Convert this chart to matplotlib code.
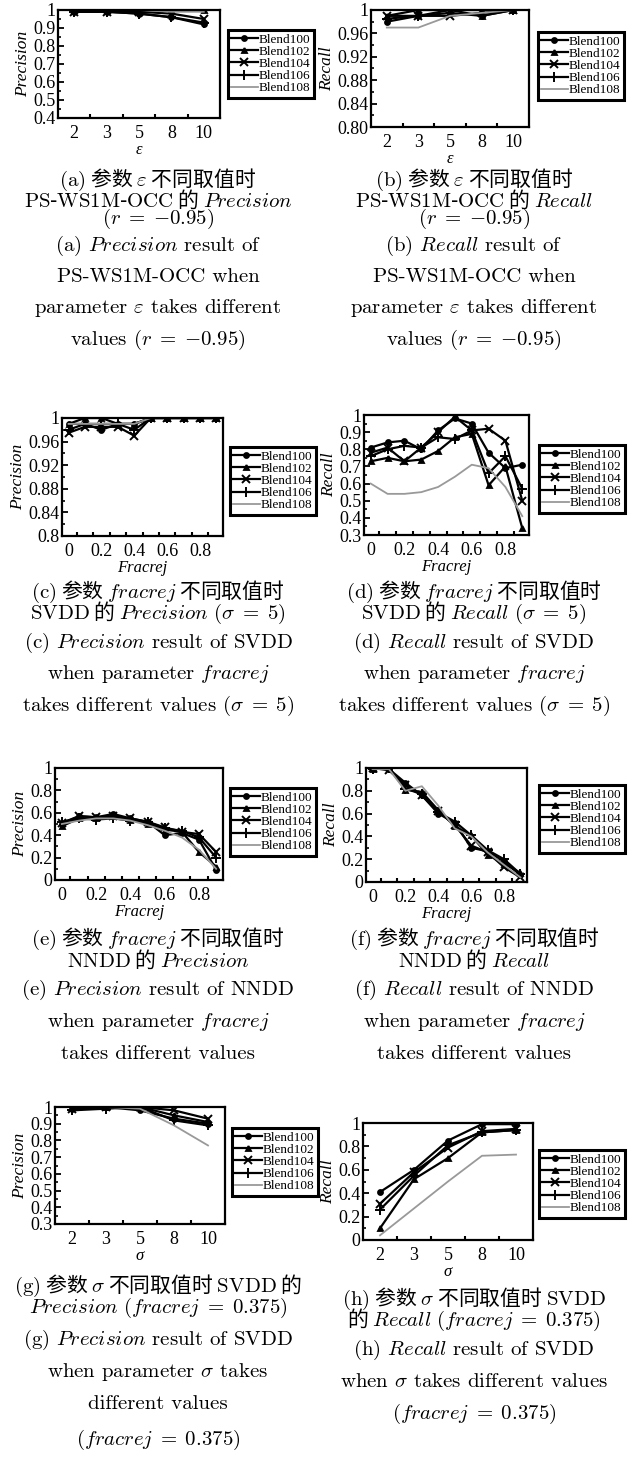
import numpy as np
import matplotlib
matplotlib.use('Agg')
import matplotlib.pyplot as plt

plt.rcParams['mathtext.fontset'] = 'cm'
plt.rcParams['font.family'] = ['Liberation Serif', 'DejaVu Serif']
plt.rcParams['axes.unicode_minus'] = False

# ---- data ----
names = ['Blend100', 'Blend102', 'Blend104', 'Blend106', 'Blend108']
eps_labels = ['2', '3', '5', '8', '10']
sigma_labels = ['2', '3', '5', '8', '10']
fracrej = [0.0, 0.1, 0.2, 0.3, 0.4, 0.5, 0.6, 0.7, 0.8, 0.9]

# (a) PS-WS1M-OCC precision vs epsilon
prec_eps = [
    [0.99, 0.99, 0.98, 0.96, 0.92],
    [1.00, 1.00, 1.00, 1.00, 1.00],
    [0.99, 0.99, 0.99, 0.98, 0.95],
    [0.99, 0.99, 0.98, 0.96, 0.93],
    [1.00, 1.00, 1.00, 0.99, 0.99],
]
# (b) PS-WS1M-OCC recall vs epsilon
rec_eps = [
    [0.980, 0.990, 0.995, 0.990, 1.000],
    [0.990, 1.000, 1.000, 0.990, 1.000],
    [0.990, 0.990, 0.990, 0.995, 1.000],
    [0.985, 0.990, 1.000, 1.000, 1.000],
    [0.970, 0.970, 0.990, 0.995, 1.000],
]
# (c) SVDD precision vs fracrej
prec_svdd_fr = [
    [0.990, 0.990, 0.980, 0.990, 0.990, 1.0, 1.0, 1.0, 1.0, 1.0],
    [0.990, 1.000, 1.000, 0.990, 0.990, 1.0, 1.0, 1.0, 1.0, 1.0],
    [0.975, 0.985, 0.985, 0.985, 0.970, 1.0, 1.0, 1.0, 1.0, 1.0],
    [0.980, 0.990, 0.990, 0.990, 0.980, 1.0, 1.0, 1.0, 1.0, 1.0],
    [0.990, 0.990, 0.990, 0.990, 0.990, 1.0, 1.0, 1.0, 1.0, 1.0],
]
# (d) SVDD recall vs fracrej
rec_svdd_fr = [
    [0.81, 0.84, 0.85, 0.80, 0.91, 0.98, 0.95, 0.78, 0.69, 0.71],
    [0.73, 0.75, 0.73, 0.74, 0.79, 0.87, 0.89, 0.59, 0.70, 0.34],
    [0.78, 0.81, 0.73, 0.81, 0.90, 0.99, 0.91, 0.92, 0.85, 0.50],
    [0.76, 0.80, 0.82, 0.81, 0.87, 0.86, 0.91, 0.66, 0.76, 0.57],
    [0.60, 0.54, 0.54, 0.55, 0.58, 0.64, 0.71, 0.69, 0.58, 0.41],
]
# (e) NNDD precision vs fracrej
prec_nndd = [
    [0.50, 0.57, 0.56, 0.59, 0.55, 0.52, 0.40, 0.42, 0.36, 0.09],
    [0.48, 0.55, 0.55, 0.57, 0.54, 0.50, 0.45, 0.43, 0.25, 0.12],
    [0.51, 0.57, 0.56, 0.57, 0.55, 0.52, 0.47, 0.43, 0.41, 0.25],
    [0.52, 0.55, 0.54, 0.55, 0.53, 0.52, 0.46, 0.44, 0.38, 0.20],
    [0.50, 0.53, 0.55, 0.55, 0.53, 0.49, 0.44, 0.38, 0.27, 0.10],
]
# (f) NNDD recall vs fracrej
rec_nndd = [
    [1.00, 0.99, 0.87, 0.76, 0.60, 0.52, 0.30, 0.27, 0.18, 0.06],
    [0.99, 1.00, 0.81, 0.79, 0.63, 0.49, 0.41, 0.24, 0.16, 0.08],
    [1.00, 0.98, 0.85, 0.76, 0.62, 0.50, 0.32, 0.26, 0.13, 0.04],
    [0.99, 1.00, 0.82, 0.77, 0.61, 0.53, 0.41, 0.28, 0.20, 0.07],
    [0.99, 0.99, 0.80, 0.84, 0.67, 0.47, 0.40, 0.26, 0.15, 0.04],
]
# (g) SVDD precision vs sigma
prec_sigma = [
    [0.99, 1.00, 0.98, 0.93, 0.90],
    [1.00, 1.00, 1.00, 0.95, 0.91],
    [0.99, 1.00, 1.00, 0.98, 0.93],
    [0.98, 0.99, 1.00, 0.92, 0.89],
    [1.00, 1.00, 0.99, 0.89, 0.77],
]
# (h) SVDD recall vs sigma
rec_sigma = [
    [0.41, 0.60, 0.85, 0.99, 0.99],
    [0.10, 0.52, 0.70, 0.92, 0.94],
    [0.31, 0.58, 0.79, 0.93, 0.95],
    [0.26, 0.55, 0.81, 0.92, 0.94],
    [0.04, 0.27, 0.50, 0.72, 0.73],
]

captions = {
    'a': [r'$\mathrm{(a)}$ 参数 $\varepsilon$ 不同取值时',
          r'$\mathrm{PS}$-$\mathrm{WS1M}$-$\mathrm{OCC}$ 的 $Precision$',
          r'$(r\;=\;{-0.95})$',
          r'(a) $Precision$ result of',
          r'PS-WS1M-OCC when',
          r'parameter $\varepsilon$ takes different',
          r'values $(r\;=\;{-0.95})$'],
    'b': [r'$\mathrm{(b)}$ 参数 $\varepsilon$ 不同取值时',
          r'$\mathrm{PS}$-$\mathrm{WS1M}$-$\mathrm{OCC}$ 的 $Recall$',
          r'$(r\;=\;{-0.95})$',
          r'(b) $Recall$ result of',
          r'PS-WS1M-OCC when',
          r'parameter $\varepsilon$ takes different',
          r'values $(r\;=\;{-0.95})$'],
    'c': [r'$\mathrm{(c)}$ 参数 $fracrej$ 不同取值时',
          r'$\mathrm{SVDD}$ 的 $Precision\ (\sigma\;=\;5)$',
          r'(c) $Precision$ result of SVDD',
          r'when parameter $fracrej$',
          r'takes different values $(\sigma\;=\;5)$'],
    'd': [r'$\mathrm{(d)}$ 参数 $fracrej$ 不同取值时',
          r'$\mathrm{SVDD}$ 的 $Recall\ (\sigma\;=\;5)$',
          r'(d) $Recall$ result of SVDD',
          r'when parameter $fracrej$',
          r'takes different values $(\sigma\;=\;5)$'],
    'e': [r'$\mathrm{(e)}$ 参数 $fracrej$ 不同取值时',
          r'$\mathrm{NNDD}$ 的 $Precision$',
          r'(e) $Precision$ result of NNDD',
          r'when parameter $fracrej$',
          r'takes different values'],
    'f': [r'$\mathrm{(f)}$ 参数 $fracrej$ 不同取值时',
          r'$\mathrm{NNDD}$ 的 $Recall$',
          r'(f) $Recall$ result of NNDD',
          r'when parameter $fracrej$',
          r'takes different values'],
    'g': [r'$\mathrm{(g)}$ 参数 $\sigma$ 不同取值时 $\mathrm{SVDD}$ 的',
          r'$Precision\ (fracrej\;=\;0.375)$',
          r'(g) $Precision$ result of SVDD',
          r'when parameter $\sigma$ takes',
          r'different values',
          r'$(fracrej\;=\;0.375)$'],
    'h': [r'$\mathrm{(h)}$ 参数 $\sigma$ 不同取值时 $\mathrm{SVDD}$',
          r'的 $Recall\ (fracrej\;=\;0.375)$',
          r'(h) $Recall$ result of SVDD',
          r'when $\sigma$ takes different values',
          r'$(fracrej\;=\;0.375)$'],
}

# ---- layout (pixel boxes: left, top, right, bottom) ----
W, H = 632, 1464
fig = plt.figure(figsize=(W / 100, H / 100), dpi=100)

markers = ['o', '^', 'x', '+', None]
msizes = [3.5, 3.5, 5.5, 6.5, 0]
colors = ['black', 'black', 'black', 'black', '#999999']
widths = [1.6, 1.6, 1.6, 1.6, 1.3]


def fbox(l, t, r, b):
    return [l / W, 1 - b / H, (r - l) / W, (b - t) / H]


def panel(ax_px, leg_px, x, data, xlim, xt, xtl, xminor,
          ylim, yt, ytl, yminor, ylab, xlab):
    ax = fig.add_axes(fbox(*ax_px))
    for name, ys, mk, ms, c, lw in zip(names, data, markers, msizes, colors, widths):
        ax.plot(x, ys, color=c, lw=lw, marker=mk, ms=ms, mew=1.4, label=name)
    ax.set_xlim(xlim)
    ax.set_ylim(ylim)
    ax.set_xticks(xt)
    ax.set_xticklabels(xtl, fontsize=13)
    ax.set_xticks(xminor, minor=True)
    ax.set_yticks(yt)
    ax.set_yticklabels(ytl, fontsize=13)
    ax.set_yticks(yminor, minor=True)
    ax.tick_params(axis='x', which='major', length=0, pad=5)
    ax.tick_params(axis='x', which='minor', direction='in', length=3, width=1.5)
    ax.tick_params(axis='y', which='major', direction='in', length=4, width=1.3, pad=2)
    ax.tick_params(axis='y', which='minor', direction='in', length=2.5, width=1.2)
    for s in ax.spines.values():
        s.set_linewidth(1.6)
    ax.set_ylabel(ylab, fontstyle='italic', fontsize=12.5, labelpad=1)
    ax.set_xlabel(xlab, fontstyle='italic', fontsize=12, labelpad=0)
    leg = ax.legend(loc='upper left', bbox_to_anchor=(leg_px[0] / W, 1 - leg_px[1] / H),
                    bbox_transform=fig.transFigure, borderaxespad=0, fancybox=False,
                    fontsize=9.5, handlelength=2.0, handletextpad=0.1,
                    labelspacing=0.0, borderpad=0.25, framealpha=1)
    leg.get_frame().set_edgecolor('black')
    leg.get_frame().set_linewidth(2.2)
    return ax


def caption(xc, ys, lines):
    for y, s in zip(ys, lines):
        cjk = any('\u4e00' <= ch <= '\u9fff' for ch in s)
        fig.text(xc / W, 1 - y / H, s, ha='center', va='center', fontsize=15,
                 family='Noto Sans CJK SC' if cjk else 'cmr10')


cat_x = np.arange(len(eps_labels))
cat_lim = (-0.5, len(eps_labels) - 0.5)
cat_minor = np.arange(len(eps_labels) - 1) + 0.5
fr_lim = (-0.04, 0.94)
fr_t = [0, 0.2, 0.4, 0.6, 0.8]
fr_tl = ['0', '0.2', '0.4', '0.6', '0.8']
fr_minor = np.arange(9) * 0.1 + 0.05

# (a)
panel((58, 10, 220, 118), (228, 30), cat_x, prec_eps, cat_lim, cat_x, eps_labels, cat_minor,
      (0.4, 1.0), [0.4, 0.5, 0.6, 0.7, 0.8, 0.9, 1.0],
      ['0.4', '0.5', '0.6', '0.7', '0.8', '0.9', '1'], np.arange(0.4, 1.0, 0.05),
      'Precision', 'ε')
# (b)
panel((371, 10, 529, 127), (538, 32), cat_x, rec_eps, cat_lim, cat_x, eps_labels, cat_minor,
      (0.8, 1.0), [0.8, 0.84, 0.88, 0.92, 0.96, 1.0],
      ['0.80', '0.84', '0.88', '0.92', '0.96', '1'], np.arange(0.8, 1.0, 0.02),
      'Recall', 'ε')
# (c)
panel((62, 418, 223, 536), (230, 447), fracrej, prec_svdd_fr, fr_lim, fr_t, fr_tl, fr_minor,
      (0.8, 1.0), [0.8, 0.84, 0.88, 0.92, 0.96, 1.0],
      ['0.8', '0.84', '0.88', '0.92', '0.96', '1'], np.arange(0.8, 1.0, 0.02),
      'Precision', 'Fracrej')
# (d)
panel((364, 415, 529, 535), (539, 445), fracrej, rec_svdd_fr, fr_lim, fr_t, fr_tl, fr_minor,
      (0.3, 1.0), [0.3, 0.4, 0.5, 0.6, 0.7, 0.8, 0.9, 1.0],
      ['0.3', '0.4', '0.5', '0.6', '0.7', '0.8', '0.9', '1'], np.arange(0.3, 1.0, 0.05),
      'Recall', 'Fracrej')
# (e)
panel((55, 768, 223, 880), (230, 788), fracrej, prec_nndd, fr_lim, fr_t, fr_tl, fr_minor,
      (0, 1.0), [0, 0.2, 0.4, 0.6, 0.8, 1.0],
      ['0', '0.2', '0.4', '0.6', '0.8', '1'], np.arange(0, 1.0, 0.1),
      'Precision', 'Fracrej')
# (f)
panel((366, 768, 527, 882), (539, 785), fracrej, rec_nndd, fr_lim, fr_t, fr_tl, fr_minor,
      (0, 1.0), [0, 0.2, 0.4, 0.6, 0.8, 1.0],
      ['0', '0.2', '0.4', '0.6', '0.8', '1'], np.arange(0, 1.0, 0.1),
      'Recall', 'Fracrej')
# (g)
panel((55, 1107, 225, 1224), (232, 1128), cat_x, prec_sigma, cat_lim, cat_x, sigma_labels, cat_minor,
      (0.3, 1.0), [0.3, 0.4, 0.5, 0.6, 0.7, 0.8, 0.9, 1.0],
      ['0.3', '0.4', '0.5', '0.6', '0.7', '0.8', '0.9', '1'], np.arange(0.3, 1.0, 0.05),
      'Precision', 'σ')
# (h)
panel((363, 1123, 533, 1240), (539, 1150), cat_x, rec_sigma, cat_lim, cat_x, sigma_labels, cat_minor,
      (0, 1.0), [0, 0.2, 0.4, 0.6, 0.8, 1.0],
      ['0', '0.2', '0.4', '0.6', '0.8', '1'], np.arange(0, 1.0, 0.1),
      'Recall', 'σ')

# captions
caption(158, [180, 200, 219, 246, 277, 308, 340], captions['a'])
caption(474, [180, 200, 219, 246, 277, 308, 340], captions['b'])
caption(158, [592, 613, 643, 674, 706], captions['c'])
caption(474, [592, 613, 643, 674, 706], captions['d'])
caption(158, [939, 960, 990, 1022, 1054], captions['e'])
caption(474, [939, 960, 990, 1022, 1054], captions['f'])
caption(158, [1286, 1308, 1340, 1372, 1404, 1440], captions['g'])
caption(474, [1299, 1320, 1350, 1382, 1414], captions['h'])

fig.savefig('out.png', dpi=100)
